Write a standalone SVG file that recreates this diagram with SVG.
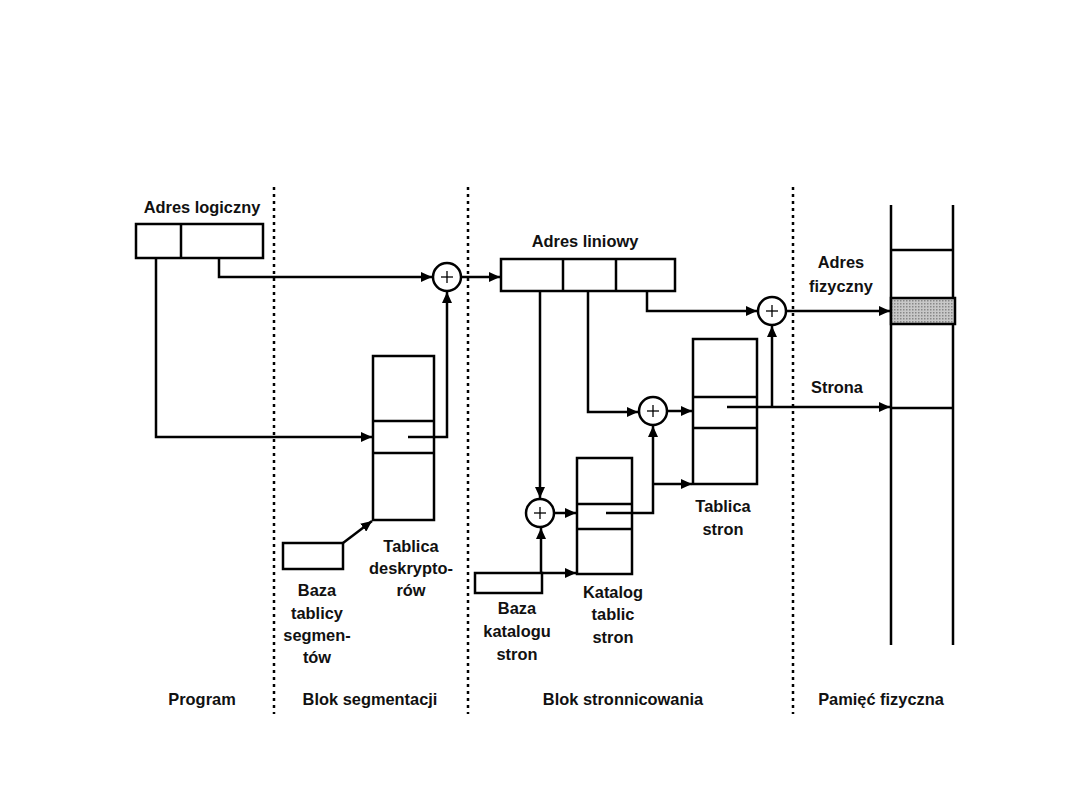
<svg xmlns="http://www.w3.org/2000/svg" width="1080" height="810" viewBox="0 0 1080 810">
<style>
.box{fill:#fff;stroke:#000;stroke-width:2.5}
.ln{fill:none;stroke:#000;stroke-width:2.5}
.con{fill:none;stroke:#000;stroke-width:2.5;marker-end:url(#arr)}
.dot{fill:none;stroke:#000;stroke-width:2.5;stroke-dasharray:3 4}
.plus{stroke:#000;stroke-width:1.3}
text{font-family:"Liberation Sans",Arial,sans-serif;font-weight:bold;font-size:16.4px;fill:#111;text-anchor:middle}
</style>
<defs>
<marker id="arr" viewBox="0 0 11 10" refX="11" refY="5" markerWidth="11" markerHeight="10" markerUnits="userSpaceOnUse" orient="auto">
<path d="M0,0 L11,5 L0,10 Z" fill="#000"/>
</marker>
<pattern id="shade" width="3" height="3" patternUnits="userSpaceOnUse">
<rect width="3" height="3" fill="#c8c8c8"/>
<rect width="1.5" height="1.5" fill="#888"/>
</pattern>
</defs>
<rect width="1080" height="810" fill="#fff"/>

<g id="dividers">
<line class="dot" x1="274" y1="187" x2="274" y2="714"/>
<line class="dot" x1="468" y1="187" x2="468" y2="714"/>
<line class="dot" x1="793" y1="187" x2="793" y2="714"/>
</g>

<g id="connectors">
<path class="con" d="M219,258 V277 H432"/>
<path class="con" d="M156,256 V437 H372"/>
<path class="con" d="M408,437 H447 V292"/>
<path class="con" d="M343,543 L372,521"/>
<path class="con" d="M462,277 H500"/>
<path class="con" d="M540,291 V498"/>
<path class="con" d="M588,291 V412 H638"/>
<path class="con" d="M647,291 V311 H757"/>
<path class="con" d="M554,513 H576"/>
<path class="con" d="M541,573 V528"/>
<path class="con" d="M542,573 H576"/>
<path class="con" d="M606,513 H653 V426"/>
<path class="con" d="M653,484 H692"/>
<path class="con" d="M667,411 H692"/>
<path class="con" d="M727,407 H890"/>
<path class="con" d="M772,407 V326"/>
<path class="con" d="M786,311 H890"/>
</g>

<g id="adres-logiczny">
<rect class="box" x="136" y="224" width="127" height="34"/>
<line class="ln" x1="181" y1="224" x2="181" y2="258"/>
<text x="202" y="213">Adres logiczny</text>
</g>

<g id="sum1">
<circle class="box" cx="447" cy="277" r="14"/>
<line class="plus" x1="441" y1="277" x2="453" y2="277"/>
<line class="plus" x1="447" y1="271" x2="447" y2="283"/>
</g>

<g id="tablica-deskryptorow">
<rect class="box" x="373" y="356" width="61" height="164"/>
<line class="ln" x1="373" y1="421" x2="434" y2="421"/>
<line class="ln" x1="373" y1="453" x2="434" y2="453"/>
<line class="ln" x1="408" y1="437" x2="434" y2="437"/>
<text x="411" y="552">Tablica</text>
<text x="411" y="574">deskrypto-</text>
<text x="411" y="596">rów</text>
</g>

<g id="baza-tablicy-segmentow">
<rect class="box" x="283" y="543" width="60" height="26"/>
<text x="317" y="596">Baza</text>
<text x="317" y="619">tablicy</text>
<text x="317" y="641">segmen-</text>
<text x="317" y="663">tów</text>
</g>

<g id="adres-liniowy">
<rect class="box" x="501" y="259" width="174" height="32"/>
<line class="ln" x1="563" y1="259" x2="563" y2="291"/>
<line class="ln" x1="616" y1="259" x2="616" y2="291"/>
<text x="585" y="247">Adres liniowy</text>
</g>

<g id="sum2">
<circle class="box" cx="540" cy="513" r="14"/>
<line class="plus" x1="534" y1="513" x2="546" y2="513"/>
<line class="plus" x1="540" y1="507" x2="540" y2="519"/>
</g>

<g id="sum3">
<circle class="box" cx="653" cy="411" r="14"/>
<line class="plus" x1="647" y1="411" x2="659" y2="411"/>
<line class="plus" x1="653" y1="405" x2="653" y2="417"/>
</g>

<g id="sum4">
<circle class="box" cx="772" cy="311" r="14"/>
<line class="plus" x1="766" y1="311" x2="778" y2="311"/>
<line class="plus" x1="772" y1="305" x2="772" y2="317"/>
</g>

<g id="katalog-tablic-stron">
<rect class="box" x="577" y="458" width="55" height="116"/>
<line class="ln" x1="577" y1="504" x2="632" y2="504"/>
<line class="ln" x1="577" y1="529" x2="632" y2="529"/>
<line class="ln" x1="606" y1="513" x2="632" y2="513"/>
<text x="613" y="598">Katalog</text>
<text x="613" y="620">tablic</text>
<text x="613" y="643">stron</text>
</g>

<g id="baza-katalogu-stron">
<rect class="box" x="475" y="573" width="67" height="20" fill="none"/>
<text x="517" y="614">Baza</text>
<text x="517" y="637">katalogu</text>
<text x="517" y="660">stron</text>
</g>

<g id="tablica-stron">
<rect class="box" x="693" y="339" width="64" height="145"/>
<line class="ln" x1="693" y1="397" x2="757" y2="397"/>
<line class="ln" x1="693" y1="428" x2="757" y2="428"/>
<line class="ln" x1="727" y1="407" x2="757" y2="407"/>
<text x="723" y="512">Tablica</text>
<text x="723" y="535">stron</text>
</g>

<g id="pamiec-fizyczna">
<line class="ln" x1="891" y1="205" x2="891" y2="645"/>
<line class="ln" x1="953" y1="205" x2="953" y2="645"/>
<line class="ln" x1="891" y1="250" x2="953" y2="250"/>
<line class="ln" x1="891" y1="408" x2="953" y2="408"/>
<rect x="891" y="298" width="64" height="26" fill="url(#shade)" stroke="#000" stroke-width="2.5"/>
</g>

<g id="labels">
<text x="841" y="268">Adres</text>
<text x="841" y="292">fizyczny</text>
<text x="837" y="393">Strona</text>
<text x="202" y="705">Program</text>
<text x="370" y="705">Blok segmentacji</text>
<text x="623" y="705">Blok stronnicowania</text>
<text x="881" y="705">Pamięć fizyczna</text>
</g>
</svg>
